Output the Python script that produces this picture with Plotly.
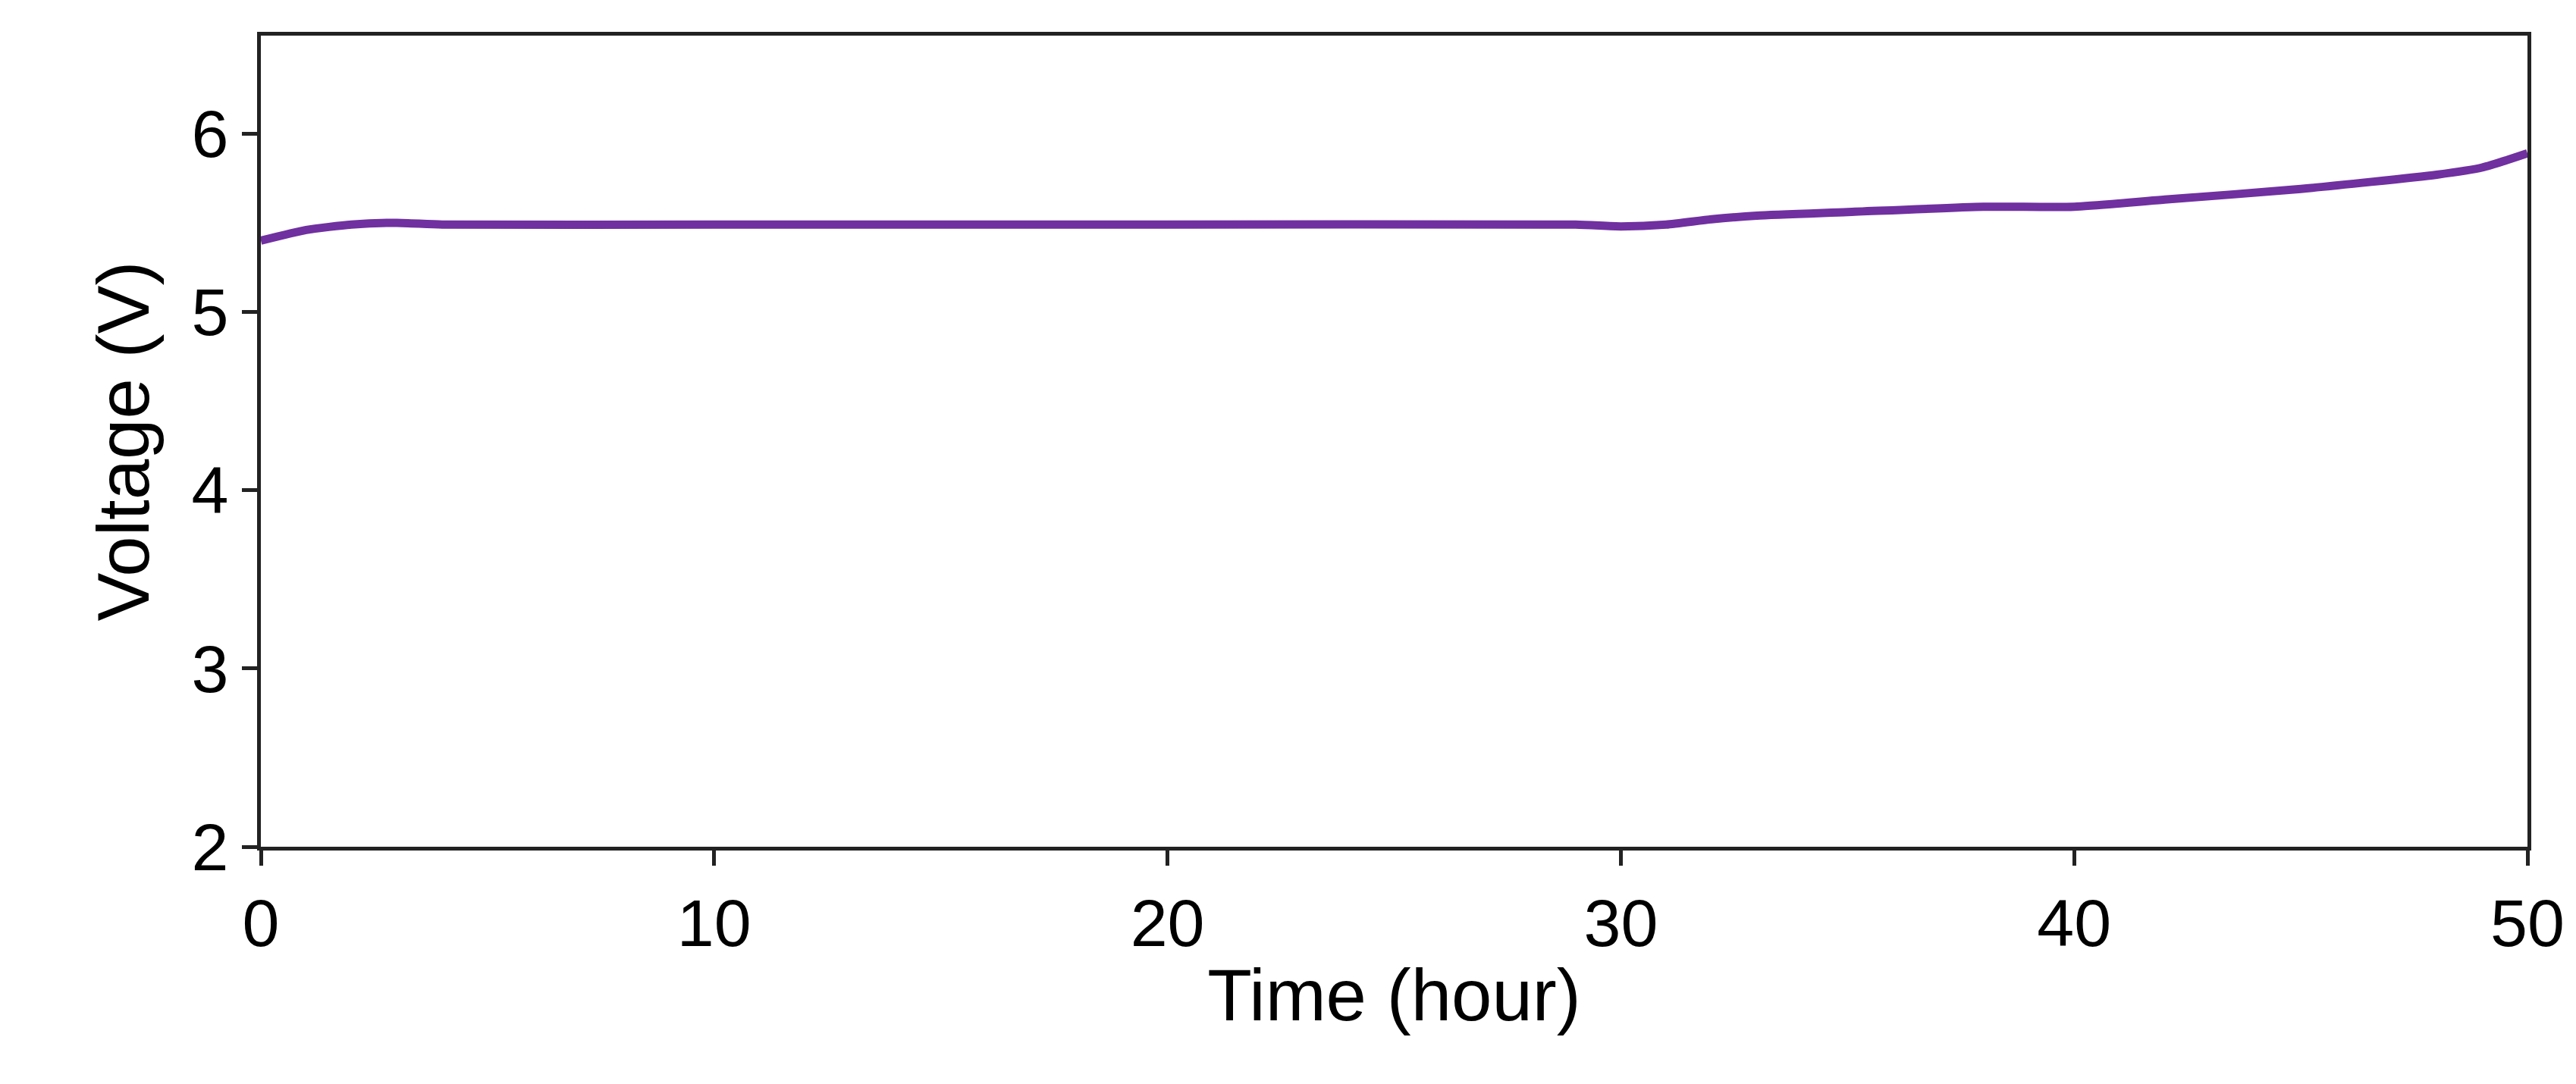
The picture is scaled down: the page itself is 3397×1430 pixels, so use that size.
import plotly.graph_objects as go

time_hour = [0, 1, 2, 3, 4, 10, 20, 29, 30, 31, 32, 33, 35, 38, 40, 42, 45, 48, 49, 50]
voltage = [5.40, 5.46, 5.49, 5.50, 5.49, 5.49, 5.49, 5.49, 5.48, 5.49, 5.52,
           5.54, 5.56, 5.59, 5.59, 5.63, 5.69, 5.77, 5.81, 5.89]

font = dict(family="Liberation Sans, Arial", size=88, color="black")

fig = go.Figure()
fig.add_trace(go.Scatter(x=time_hour, y=voltage, mode="lines",
                         line=dict(color="#7030A0", width=11, shape="spline", smoothing=0.6)))

axis_style = dict(showline=True, linewidth=5, linecolor="#222222", mirror=True,
                  ticks="outside", ticklen=20, tickwidth=5, tickcolor="#222222",
                  showgrid=False, zeroline=False, tickfont=font)

fig.update_xaxes(range=[0, 50], dtick=10,
                 title=dict(text="Time (hour)", font=dict(font, size=96), standoff=15),
                 **axis_style)
fig.update_yaxes(range=[2, 6.55], tickvals=[2, 3, 4, 5, 6],
                 title=dict(text="Voltage (V)", font=dict(font, size=96), standoff=25),
                 **axis_style)

fig.update_layout(width=3397, height=1430, plot_bgcolor="white", paper_bgcolor="white",
                  showlegend=False, margin=dict(l=336, r=72, t=39, b=321))

fig.write_html("out.html")
